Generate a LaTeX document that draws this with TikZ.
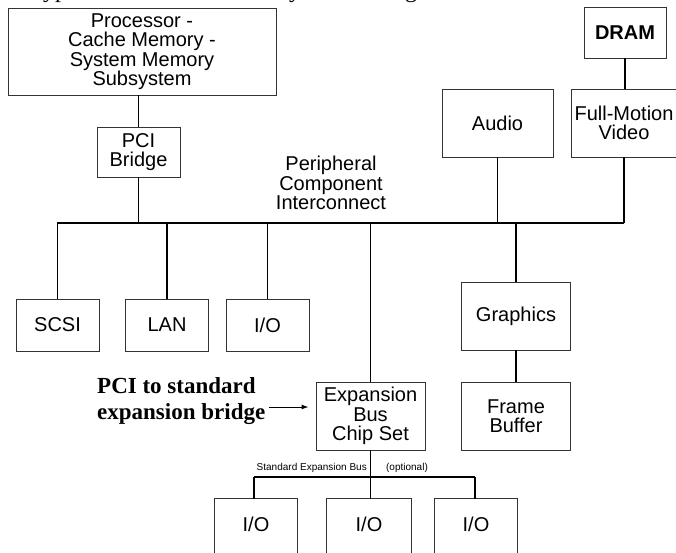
\documentclass[tikz,border=0pt]{standalone}
\usepackage{fontspec}
\setmainfont{Liberation Serif}
\newfontfamily\sansf{Liberation Sans}
\usetikzlibrary{arrows.meta,calc}
\begin{document}
\begin{tikzpicture}[x=1pt,y=-1pt,
  boxline/.style={draw=black!80, line width=0.9pt},
  blk/.style={boxline, inner sep=0pt, align=center, font=\sansf\fontsize{20}{19.5}\selectfont},
  txt/.style={inner sep=0pt, align=center, font=\sansf\fontsize{20}{19.5}\selectfont},
  small/.style={inner sep=0pt, font=\sansf\fontsize{10}{10}\selectfont},
  wire/.style={line width=1.6pt, black},
]
\useasboundingbox (0,0) rectangle (676,552);
% cut-off title
\node[anchor=base west, inner sep=0pt, font=\fontsize{24}{24}\selectfont] (title) at (30,-3) {Typical PCI motherboard system for digital multimedia};
% boxes
\node[blk, minimum width=268pt, minimum height=87pt] (proc) at (142,51.5) {Processor -\\Cache Memory -\\System Memory\\Subsystem};
\node[blk, minimum width=83pt, minimum height=50pt] (bridge) at (138.5,152) {PCI\\Bridge};
\node[blk, minimum width=82pt, minimum height=51pt, font=\sansf\bfseries\fontsize{20}{19.5}\selectfont] (dram) at (625,32.5) {DRAM};
\node[blk, minimum width=111pt, minimum height=68pt] (audio) at (497.5,123) {Audio};
\node[blk, minimum width=106pt, minimum height=68pt] (fmv) at (624,123) {Full-Motion\\Video};
\node[blk, minimum width=83pt, minimum height=52pt] (scsi) at (57.5,325) {SCSI};
\node[blk, minimum width=83pt, minimum height=52pt] (lan) at (167,325) {LAN};
\node[blk, minimum width=83pt, minimum height=52pt] (io1) at (267.5,325) {I/O};
\node[blk, minimum width=109pt, minimum height=68pt] (gfx) at (516,316) {Graphics};
\node[blk, minimum width=109pt, minimum height=68pt] (fb) at (516,416) {Frame\\Buffer};
\node[blk, minimum width=109pt, minimum height=68pt] (exp) at (370.5,416) {Expansion\\Bus\\Chip Set};
% bottom I/O boxes (cut off at the bottom edge)
\node[txt, minimum width=82pt, minimum height=50pt] (io2) at (256,524) {I/O};
\node[txt, minimum width=84pt, minimum height=50pt] (io3) at (369,524) {I/O};
\node[txt, minimum width=82pt, minimum height=50pt] (io4) at (476,524) {I/O};
\foreach \n in {io2,io3,io4}
  \draw[boxline] (\n.north west) rectangle ($(\n.south east)+(0,20)$);
% labels
\node[txt] (pcilab) at (331,183) {Peripheral\\Component\\Interconnect};
\node[inner sep=0pt, align=left, anchor=west, font=\bfseries\fontsize{23}{26}\selectfont] (brlab) at (97,401) {PCI to standard\\expansion bridge};
\node[small, anchor=east] (sebl) at (367,468) {Standard Expansion Bus};
\node[small] (optl) at (407,468) {(optional)};
% buses
\coordinate (busL) at (57,223);
\coordinate (busR) at (624,223);
\coordinate (ebL) at (254,477);
\coordinate (ebR) at (475,477);
\draw[wire] (busL) -- (busR);
\draw[wire] (ebL) -- (ebR);
% connectors
\draw[wire] (proc.south -| bridge.north) -- (bridge.north);
\draw[wire] (bridge.south) -- (bridge.south |- busL);
\draw[wire] (scsi.north) -- (scsi.north |- busL);
\draw[wire] (lan.north) -- (lan.north |- busL);
\draw[wire] (io1.north) -- (io1.north |- busL);
\draw[wire] (exp.north) -- (exp.north |- busL);
\draw[wire] (gfx.north) -- (gfx.north |- busL);
\draw[wire] (audio.south) -- (audio.south |- busL);
\draw[wire] (fmv.south) -- (busR);
\draw[wire] (dram.south) -- (dram.south |- fmv.north);
\draw[wire] (gfx.south) -- (fb.north);
\draw[wire] (exp.south) -- (exp.south |- ebL);
\draw[wire] (ebL) -- (ebL |- io2.north);
\draw[wire] (exp.south |- ebL) -- (exp.south |- io3.north);
\draw[wire] (ebR) -- (ebR |- io4.north);
\draw[line width=1pt, -{Latex[length=7pt,width=5pt]}] ($(brlab.east)+(4,6)$) coordinate (arrs) -- (arrs -| exp.west) [shorten >=7pt];
\end{tikzpicture}
\end{document}
